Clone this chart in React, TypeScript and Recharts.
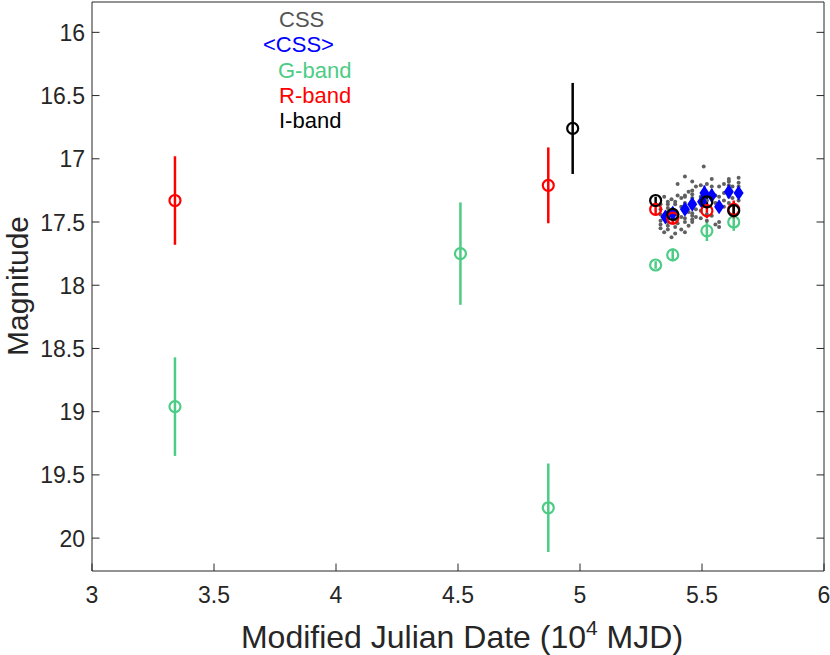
import { ErrorBar, Scatter, ScatterChart, XAxis, YAxis } from 'recharts';

type Pt = { x: number; y: number; err?: number };

// axis ticks
const xTicks = [3, 3.5, 4, 4.5, 5, 5.5, 6];
const yTicks = [16, 16.5, 17, 17.5, 18, 18.5, 19, 19.5, 20];

// CSS single epochs (gray dots)
const cssRaw: Pt[] = [
  { x: 5.33, y: 17.36 }, { x: 5.33, y: 17.4 }, { x: 5.33, y: 17.44 }, { x: 5.33, y: 17.49 },
  { x: 5.33, y: 17.52 }, { x: 5.33, y: 17.55 }, { x: 5.345, y: 17.3 }, { x: 5.345, y: 17.47 },
  { x: 5.345, y: 17.58 }, { x: 5.36, y: 17.34 }, { x: 5.36, y: 17.36 }, { x: 5.36, y: 17.39 },
  { x: 5.36, y: 17.5 }, { x: 5.36, y: 17.53 }, { x: 5.36, y: 17.56 }, { x: 5.36, y: 17.42 },
  { x: 5.375, y: 17.32 }, { x: 5.375, y: 17.45 }, { x: 5.375, y: 17.62 }, { x: 5.39, y: 17.34 },
  { x: 5.39, y: 17.36 }, { x: 5.39, y: 17.41 }, { x: 5.39, y: 17.54 }, { x: 5.39, y: 17.59 },
  { x: 5.39, y: 17.48 }, { x: 5.4, y: 17.2 }, { x: 5.4, y: 17.29 }, { x: 5.4, y: 17.44 },
  { x: 5.4, y: 17.51 }, { x: 5.415, y: 17.31 }, { x: 5.415, y: 17.38 }, { x: 5.415, y: 17.46 },
  { x: 5.415, y: 17.56 }, { x: 5.43, y: 17.14 }, { x: 5.43, y: 17.29 }, { x: 5.43, y: 17.3 },
  { x: 5.43, y: 17.47 }, { x: 5.43, y: 17.5 }, { x: 5.43, y: 17.58 }, { x: 5.43, y: 17.35 },
  { x: 5.445, y: 17.26 }, { x: 5.445, y: 17.42 }, { x: 5.445, y: 17.53 }, { x: 5.46, y: 17.18 },
  { x: 5.46, y: 17.25 }, { x: 5.46, y: 17.28 }, { x: 5.46, y: 17.31 }, { x: 5.46, y: 17.34 },
  { x: 5.46, y: 17.43 }, { x: 5.46, y: 17.45 }, { x: 5.46, y: 17.48 }, { x: 5.46, y: 17.5 },
  { x: 5.475, y: 17.22 }, { x: 5.475, y: 17.4 }, { x: 5.475, y: 17.46 }, { x: 5.495, y: 17.21 },
  { x: 5.495, y: 17.3 }, { x: 5.495, y: 17.47 }, { x: 5.495, y: 17.41 }, { x: 5.507, y: 17.06 },
  { x: 5.507, y: 17.25 }, { x: 5.52, y: 17.2 }, { x: 5.52, y: 17.33 }, { x: 5.52, y: 17.44 },
  { x: 5.52, y: 17.49 }, { x: 5.54, y: 17.16 }, { x: 5.54, y: 17.22 }, { x: 5.54, y: 17.29 },
  { x: 5.54, y: 17.45 }, { x: 5.555, y: 17.29 }, { x: 5.555, y: 17.35 }, { x: 5.555, y: 17.52 },
  { x: 5.57, y: 17.22 }, { x: 5.57, y: 17.5 }, { x: 5.57, y: 17.54 }, { x: 5.57, y: 17.3 },
  { x: 5.59, y: 17.2 }, { x: 5.59, y: 17.27 }, { x: 5.59, y: 17.33 }, { x: 5.59, y: 17.38 },
  { x: 5.61, y: 17.16 }, { x: 5.61, y: 17.18 }, { x: 5.61, y: 17.21 }, { x: 5.61, y: 17.25 },
  { x: 5.61, y: 17.3 }, { x: 5.61, y: 17.35 }, { x: 5.625, y: 17.22 }, { x: 5.625, y: 17.31 },
  { x: 5.65, y: 17.15 }, { x: 5.65, y: 17.19 }, { x: 5.65, y: 17.22 }, { x: 5.65, y: 17.28 },
  { x: 5.65, y: 17.33 },
];

// binned CSS (<CSS>, blue diamonds)
const cssMean: Pt[] = [
  { x: 5.35, y: 17.46, err: 0.04 }, { x: 5.38, y: 17.43, err: 0.05 },
  { x: 5.43, y: 17.4, err: 0.04 }, { x: 5.46, y: 17.36, err: 0.04 },
  { x: 5.5, y: 17.34, err: 0.05 }, { x: 5.51, y: 17.27, err: 0.06 },
  { x: 5.54, y: 17.29, err: 0.05 }, { x: 5.57, y: 17.38, err: 0.04 },
  { x: 5.61, y: 17.26, err: 0.05 }, { x: 5.65, y: 17.27, err: 0.04 },
];

const gBand: Pt[] = [
  { x: 3.34, y: 18.96, err: 0.39 }, { x: 4.51, y: 17.75, err: 0.405 },
  { x: 4.87, y: 19.76, err: 0.35 }, { x: 5.31, y: 17.84, err: 0.03 },
  { x: 5.38, y: 17.76, err: 0.05 }, { x: 5.52, y: 17.57, err: 0.08 },
  { x: 5.63, y: 17.5, err: 0.07 },
];

const rBand: Pt[] = [
  { x: 3.34, y: 17.33, err: 0.35 }, { x: 4.87, y: 17.21, err: 0.3 },
  { x: 5.31, y: 17.4, err: 0.04 }, { x: 5.38, y: 17.47, err: 0.05 },
  { x: 5.52, y: 17.41, err: 0.06 }, { x: 5.63, y: 17.4, err: 0.07 },
];

const iBand: Pt[] = [
  { x: 4.97, y: 16.76, err: 0.36 }, { x: 5.31, y: 17.33, err: 0.03 },
  { x: 5.38, y: 17.44, err: 0.04 }, { x: 5.52, y: 17.34, err: 0.05 },
  { x: 5.63, y: 17.41, err: 0.04 },
];

const GREEN = '#4dcc85';
const AXIS = '#262626';
const FONT = '"Liberation Sans", Arial, Helvetica, sans-serif';

const BottomTick = (p: any) => (
  <g>
    <line x1={p.x} y1={p.y} x2={p.x} y2={p.y - 7.5} stroke={AXIS} />
    <text x={p.x} y={p.y + 32} textAnchor="middle" fontSize={23} fill={AXIS} fontFamily={FONT}>
      {p.payload.value}
    </text>
  </g>
);
const TopTick = (p: any) => (
  <line x1={p.x} y1={p.y} x2={p.x} y2={p.y + 7.5} stroke={AXIS} />
);
const LeftTick = (p: any) => (
  <g>
    <line x1={p.x} y1={p.y} x2={p.x + 7.5} y2={p.y} stroke={AXIS} />
    <text x={p.x - 7} y={p.y + 8.5} textAnchor="end" fontSize={23} fill={AXIS} fontFamily={FONT}>
      {p.payload.value}
    </text>
  </g>
);
const RightTick = (p: any) => (
  <line x1={p.x} y1={p.y} x2={p.x - 7.5} y2={p.y} stroke={AXIS} />
);

const ring = (color: string) => (p: any) =>
  <circle cx={p.cx} cy={p.cy} r={5.5} fill="none" stroke={color} strokeWidth={2.2} />;

const Diamond = (p: any) => (
  <polygon
    points={`${p.cx},${p.cy - 7.5} ${p.cx + 5},${p.cy} ${p.cx},${p.cy + 7.5} ${p.cx - 5},${p.cy}`}
    fill="#0000ff"
  />
);

const Dot = (p: any) => <circle cx={p.cx} cy={p.cy} r={2} fill="#606060" />;

export default function App() {
  return (
    <div style={{ position: 'absolute', left: 0, top: 0 }}>
      <ScatterChart width={830} height={655} margin={{ top: 1, right: 5, bottom: 0, left: 0 }}>
        <XAxis xAxisId={0} dataKey="x" type="number" domain={[3, 6]} ticks={xTicks} allowDataOverflow
          height={84} tickSize={0} tickMargin={0} tickLine={false} stroke={AXIS} tick={BottomTick} />
        <XAxis xAxisId="top" orientation="top" type="number" domain={[3, 6]} ticks={xTicks} allowDataOverflow
          height={1} tickSize={0} tickMargin={0} tickLine={false} stroke={AXIS} tick={TopTick} />
        <YAxis yAxisId={0} dataKey="y" type="number" domain={[15.76, 20.26]} ticks={yTicks} reversed allowDataOverflow
          width={92} tickSize={0} tickMargin={0} tickLine={false} stroke={AXIS} tick={LeftTick} />
        <YAxis yAxisId="right" orientation="right" type="number" domain={[15.76, 20.26]} ticks={yTicks} reversed allowDataOverflow
          width={1} tickSize={0} tickMargin={0} tickLine={false} stroke={AXIS} tick={RightTick} />

        <Scatter data={cssRaw} shape={Dot} isAnimationActive={false} />
        <Scatter data={cssMean} shape={Diamond} isAnimationActive={false}>
          <ErrorBar dataKey="err" direction="y" width={0} stroke="#0000ff" strokeWidth={2} isAnimationActive={false} />
        </Scatter>
        <Scatter data={gBand} shape={ring(GREEN)} isAnimationActive={false}>
          <ErrorBar dataKey="err" direction="y" width={0} stroke={GREEN} strokeWidth={2.5} isAnimationActive={false} />
        </Scatter>
        <Scatter data={rBand} shape={ring('#ff0000')} isAnimationActive={false}>
          <ErrorBar dataKey="err" direction="y" width={0} stroke="#ff0000" strokeWidth={2.5} isAnimationActive={false} />
        </Scatter>
        <Scatter data={iBand} shape={ring('#000000')} isAnimationActive={false}>
          <ErrorBar dataKey="err" direction="y" width={0} stroke="#000000" strokeWidth={2.5} isAnimationActive={false} />
        </Scatter>

        <g fontFamily={FONT} fontSize={22}>
          <text x={279} y={27} fill="#555555">CSS</text>
          <text x={263} y={52} fill="#0000ff">&lt;CSS&gt;</text>
          <text x={278} y={78} fill={GREEN}>G-band</text>
          <text x={279} y={103} fill="#ff0000">R-band</text>
          <text x={279} y={128} fill="#000000">I-band</text>
        </g>
        <text x={28} y={286} transform="rotate(-90 28 286)" textAnchor="middle" fontSize={30} fill={AXIS} fontFamily={FONT}>
          Magnitude
        </text>
        <text x={462} y={648} textAnchor="middle" fontSize={32} fill={AXIS} fontFamily={FONT}>
          <tspan>Modified Julian Date (10</tspan>
          <tspan dy={-13} fontSize={21}>4</tspan>
          <tspan dy={13}> MJD)</tspan>
        </text>
      </ScatterChart>
    </div>
  );
}
